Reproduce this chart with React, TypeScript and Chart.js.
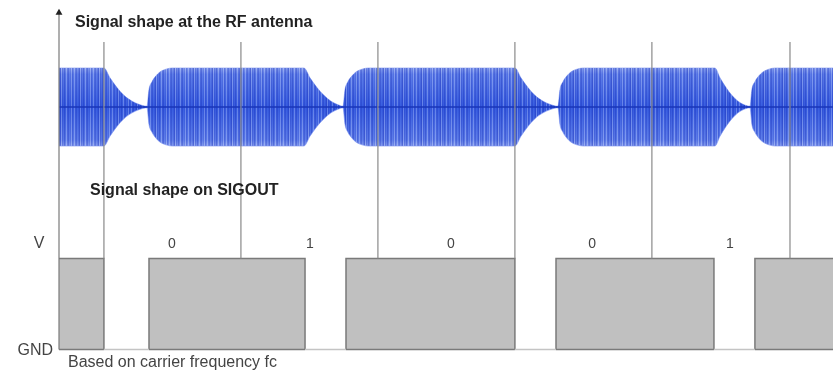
import React, { useEffect, useRef } from 'react';
import { Chart, registerables } from 'chart.js';

Chart.register(...registerables);

// Time is measured in bit-clock periods, t = 0 at the vertical axis.
// RF envelope (relative amplitude of the carrier burst)
const envelopeTime = [
  0, 0.328, 0.372, 0.423, 0.474, 0.533, 0.591, 0.642, 0.657, 0.679, 0.708, 0.737, 0.781, 0.825,
  1.788, 1.832, 1.883, 1.934, 1.985, 2.036, 2.073, 2.088, 2.109, 2.139, 2.168, 2.212, 2.255,
  3.328, 3.372, 3.423, 3.474, 3.533, 3.591, 3.642, 3.657, 3.679, 3.708, 3.737, 3.781, 3.825,
  4.788, 4.825, 4.869, 4.912, 4.956, 5.0, 5.044, 5.058, 5.08, 5.109, 5.139, 5.182, 5.226,
  5.65,
];
const envelopeAmp = [
  1.0, 1.0, 0.75, 0.5, 0.3, 0.15, 0.06, 0.02, 0.45, 0.65, 0.8, 0.9, 0.97, 1.0,
  1.0, 0.75, 0.5, 0.3, 0.15, 0.06, 0.02, 0.45, 0.65, 0.8, 0.9, 0.97, 1.0,
  1.0, 0.75, 0.5, 0.3, 0.15, 0.06, 0.02, 0.45, 0.65, 0.8, 0.9, 0.97, 1.0,
  1.0, 0.75, 0.5, 0.3, 0.15, 0.06, 0.02, 0.45, 0.65, 0.8, 0.9, 0.97, 1.0,
  1.0,
];

// Clock marker lines
const clockTimes = [0.328, 1.328, 2.328, 3.328, 4.328, 5.336];

// SIGOUT digital output (0 = GND, 1 = V)
const sigoutTime = [0, 0.328, 0.328, 0.657, 0.657, 1.796, 1.796, 2.095, 2.095, 3.328, 3.328, 3.628, 3.628, 4.781, 4.781, 5.08, 5.08, 5.65];
const sigoutLevel = [1, 1, 0, 0, 1, 1, 0, 0, 1, 1, 0, 0, 1, 1, 0, 0, 1, 1];

// Decoded bits
const bitTime = [0.825, 1.832, 2.861, 3.891, 4.898];
const bitLabels = ['0', '1', '0', '0', '1'];

const TIME_MAX = 5.65;
const MARKER_TOP = 3.379;
const AXIS_TOP = 3.70;
const FONT = 'Arial, "Liberation Sans", sans-serif';

export default function App() {
  const canvasRef = useRef<HTMLCanvasElement | null>(null);

  useEffect(() => {
    const canvas = canvasRef.current;
    if (!canvas) return;

    let patternCache: CanvasPattern | null = null;
    const rfFill = (ctx: any) => {
      const chart = ctx.chart;
      if (!chart.chartArea) return 'rgba(55,95,228,0.9)';
      if (patternCache) return patternCache;
      const yScale = chart.scales.yRF;
      const top = yScale.getPixelForValue(1);
      const bot = yScale.getPixelForValue(-1);
      const pc = document.createElement('canvas');
      const stripes = [0.3, 0.05, 0.18, 0.4, 0.0, 0.26, 0.1, 0.36, 0.12, 0.0, 0.22, 0.32, 0.05, 0.16, 0.0, 0.28, 0.1, 0.0, 0.2];
      pc.width = stripes.length;
      pc.height = chart.height;
      const pctx = pc.getContext('2d')!;
      const g = pctx.createLinearGradient(0, top - 2, 0, bot + 2);
      g.addColorStop(0, '#97acf2');
      g.addColorStop(0.1, '#6282ec');
      g.addColorStop(0.5, '#3a60e3');
      g.addColorStop(0.9, '#6282ec');
      g.addColorStop(1, '#97acf2');
      pctx.fillStyle = g;
      pctx.fillRect(0, 0, pc.width, pc.height);
      stripes.forEach((a, i) => {
        if (a > 0) {
          pctx.fillStyle = `rgba(12,32,175,${a})`;
          pctx.fillRect(i, 0, 1, pc.height);
        } else {
          pctx.fillStyle = 'rgba(255,255,255,0.2)';
          pctx.fillRect(i, 0, 1, pc.height);
        }
      });
      patternCache = chart.ctx.createPattern(pc, 'repeat');
      return patternCache as any;
    };

    const clockPoints: any[] = [];
    clockTimes.forEach((t) => {
      clockPoints.push({ x: t, y: 1 }, { x: t, y: MARKER_TOP }, { x: t, y: null });
    });

    const textPlugin = {
      id: 'texts',
      afterDraw(chart: any) {
        const c = chart.ctx;
        const xs = chart.scales.x;
        const ys = chart.scales.ySig;
        c.save();
        c.textBaseline = 'alphabetic';
        c.fillStyle = '#222';
        c.font = `bold 16px ${FONT}`;
        c.textAlign = 'left';
        c.fillText('Signal shape at the RF antenna', 75, 27);
        c.fillText('Signal shape on SIGOUT', 90, 195);

        c.fillStyle = '#444';
        c.font = `16px ${FONT}`;
        c.textAlign = 'center';
        c.fillText('V', 39, ys.getPixelForValue(1) - 11);
        c.textAlign = 'right';
        c.fillText('GND', 53, ys.getPixelForValue(0) + 5.5);
        c.textAlign = 'left';
        c.fillText('Based on carrier frequency fc', 68, 367);

        c.font = `14px ${FONT}`;
        c.textAlign = 'center';
        c.textBaseline = 'middle';
        c.fillStyle = '#444';
        bitLabels.forEach((b, i) => {
          c.fillText(b, xs.getPixelForValue(bitTime[i]), ys.getPixelForValue(1) - 14);
        });
        c.restore();
      },
    };

    const chart = new Chart(canvas, {
      type: 'scatter',
      data: {
        datasets: [
          {
            // vertical axis with arrow
            data: [
              { x: 0, y: 0 },
              { x: 0, y: AXIS_TOP },
            ],
            yAxisID: 'ySig',
            showLine: true,
            borderColor: '#7a7a7a',
            borderWidth: 1.2,
            pointRadius: [0, 4],
            pointStyle: 'triangle',
            pointBackgroundColor: '#222',
            pointBorderColor: '#222',
            pointBorderWidth: 0,
            clip: false,
            order: 0,
          } as any,
          {
            // clock markers
            data: clockPoints,
            yAxisID: 'ySig',
            showLine: true,
            spanGaps: false,
            borderColor: '#8a8a8a',
            borderWidth: 1.2,
            pointRadius: 0,
            clip: false,
            order: 1,
          } as any,
          {
            // carrier centre line
            data: [
              { x: 0, y: 0 },
              { x: TIME_MAX, y: 0 },
            ],
            yAxisID: 'yRF',
            showLine: true,
            borderColor: '#1a36b8',
            borderWidth: 1.5,
            pointRadius: 0,
            order: 2,
          } as any,
          {
            // upper envelope
            data: envelopeTime.map((t, i) => ({ x: t, y: envelopeAmp[i] })),
            yAxisID: 'yRF',
            showLine: true,
            borderColor: 'rgba(120,145,240,0.6)',
            borderWidth: 1,
            pointRadius: 0,
            cubicInterpolationMode: 'monotone',
            fill: false,
            order: 4,
          } as any,
          {
            // lower envelope, filled up to the upper envelope
            data: envelopeTime.map((t, i) => ({ x: t, y: -envelopeAmp[i] })),
            yAxisID: 'yRF',
            showLine: true,
            borderColor: 'rgba(120,145,240,0.6)',
            borderWidth: 1,
            pointRadius: 0,
            cubicInterpolationMode: 'monotone',
            fill: '-1',
            backgroundColor: rfFill,
            order: 3,
          } as any,
          {
            // SIGOUT pulses
            data: sigoutTime.map((t, i) => ({ x: t, y: sigoutLevel[i] })),
            yAxisID: 'ySig',
            showLine: true,
            borderColor: '#7a7a7a',
            borderWidth: 1.5,
            pointRadius: 0,
            fill: 'origin',
            backgroundColor: '#c0c0c0',
            segment: {
              borderColor: (ctx: any) =>
                sigoutLevel[ctx.p0DataIndex] === 0 && sigoutLevel[ctx.p1DataIndex] === 0 ? 'rgba(0,0,0,0)' : '#7a7a7a',
            },
            clip: false,
            order: 6,
          } as any,
          {
            // GND baseline
            data: sigoutTime.map((t) => ({ x: t, y: 0 })),
            yAxisID: 'ySig',
            showLine: true,
            borderColor: '#c4c4c4',
            borderWidth: 1.5,
            pointRadius: 0,
            segment: {
              borderColor: (ctx: any) =>
                sigoutLevel[ctx.p0DataIndex] === 1 && sigoutLevel[ctx.p1DataIndex] === 1 ? '#7a7a7a' : '#c4c4c4',
            },
            clip: false,
            order: 5,
          } as any,
        ],
      },
      options: {
        responsive: false,
        animation: false,
        devicePixelRatio: 1,
        layout: { autoPadding: false, padding: { left: 59, right: 0, top: 0, bottom: 0 } },
        plugins: {
          legend: { display: false },
          tooltip: { enabled: false },
          title: { display: false },
        },
        events: [],
        scales: {
          x: { type: 'linear', min: 0, max: TIME_MAX, display: false },
          yRF: { type: 'linear', min: -6.769, max: 2.744, display: false },
          ySig: { type: 'linear', min: -0.236, max: 3.841, display: false },
        },
      } as any,
      plugins: [textPlugin],
    });

    return () => {
      chart.destroy();
    };
  }, []);

  return (
    <div style={{ position: 'fixed', left: 0, top: 0, width: 833, height: 371, background: '#fff' }}>
      <canvas ref={canvasRef} width={833} height={371} style={{ display: 'block', width: 833, height: 371 }} />
    </div>
  );
}
